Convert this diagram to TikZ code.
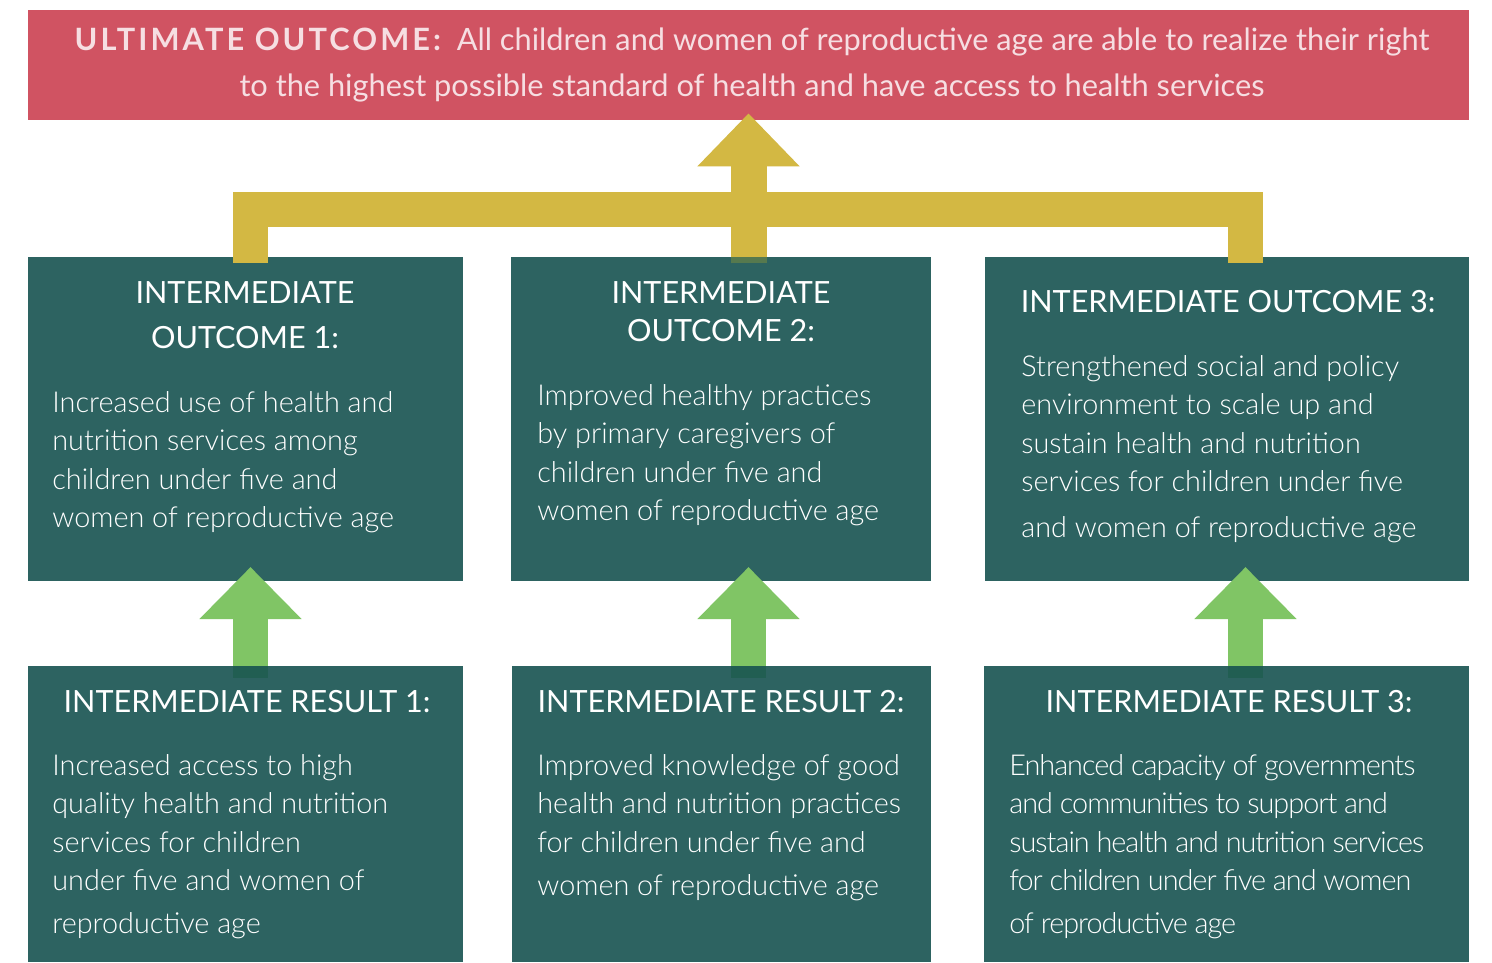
\documentclass[tikz,border=0pt]{standalone}
\usepackage{fontspec}
\setmainfont{Lato}
\IfFontExistsTF{Lato Light}{%
  \newfontfamily\lightfont{Lato Light}%
  \newfontfamily\tightfont{Lato Light}[LetterSpace=-3.5]}{%
  \newfontfamily\lightfont{Lato}%
  \newfontfamily\tightfont{Lato}[LetterSpace=-3.5]}
\newfontfamily\widebold{Lato}[LetterSpace=10]
\usetikzlibrary{arrows.meta,positioning,fit}
\definecolor{ultred}{RGB}{208,83,98}
\definecolor{boxteal}{RGB}{45,99,97}
\definecolor{linkgold}{RGB}{211,184,67}
\definecolor{stepgreen}{RGB}{128,197,101}
\definecolor{titlepink}{RGB}{246,222,226}
\definecolor{shaftdark}{RGB}{33,94,82}
\newcommand{\titlefont}{\fontsize{17.5}{26.2}\selectfont}
\newcommand{\headfont}{\fontsize{17.4}{25.6}\selectfont}
\newcommand{\bodyfont}{\lightfont\fontsize{16.4}{21.9}\selectfont}

\begin{document}
\begin{tikzpicture}[x=0.2mm,y=-0.2mm,
  panel/.style={fill=boxteal,inner sep=0pt,outer sep=0pt},
  titletxt/.style={font=\titlefont,text=titlepink,inner sep=0pt,align=center},
  headtxt/.style={font=\headfont,text=white,inner sep=0pt,align=center},
  bodytxt/.style={font=\bodyfont,text=white,inner sep=0pt,align=left,anchor=north west},
  bracket/.style={draw=linkgold,line width=7mm,line join=miter},
  goal/.style={linkgold,line width=7.2mm,-{Triangle[width=19.8mm,length=10.6mm]}},
  lift/.style={stepgreen,line width=7mm,-{Triangle[width=19.8mm,length=10.4mm]}}]
  \useasboundingbox (0,0) rectangle (1492,962);
  \fill[white] (0,0) rectangle (1492,962);

  % ultimate outcome banner
  \node[fill=ultred,inner sep=0pt,fit={(28,10) (1469,120)}] (ult) {};
  \node[titletxt,anchor=north] (ulttext) at (752,27)
    {{\widebold\bfseries ULTIMATE OUTCOME:}\ \ All children and women of reproductive age are able to realize their right\\
     to the highest possible standard of health and have access to health services};

  % panels: outcomes on top, results below
  \node[panel,fit={(28,257) (463,581)}] (io1) {};
  \node[panel,fit={(511,257) (931,581)}] (io2) {};
  \node[panel,fit={(985,257) (1469,581)}] (io3) {};
  \node[panel,fit={(28,666) (463,962)}] (ir1) {};
  \node[panel,fit={(512,666) (931,962)}] (ir2) {};
  \node[panel,fit={(984,666) (1469,962)}] (ir3) {};

  % gold bracket joining the outcomes
  \coordinate (lstub) at (250.5,263);
  \coordinate (rstub) at (1245.5,263);
  \coordinate (hub) at (748.5,263);
  \draw[bracket] (lstub) -- (250.5,209.5) -- (1245.5,209.5) -- (rstub);
  \draw[goal] (hub) -- ([yshift=1.4mm]ult.south);
  \fill[shaftdark!70!linkgold] (730.5,257) rectangle (766.5,263);

  % green arrows from results to outcomes
  \foreach \i/\x in {1/250.5,2/748.5,3/1245.5}{
    \coordinate (r\i) at (\x,678);
    \coordinate (o\i) at (\x,567);
    \draw[lift] (r\i) -- (o\i);
    \fill[shaftdark] (\x-17.5,666) rectangle (\x+17.5,678);
  }

  % outcome texts
  \node[headtxt,anchor=north] (io1head) at (245,281) {INTERMEDIATE\\OUTCOME 1:};
  \node[bodytxt] (io1body) at (52,391)
    {Increased use of health and\\nutrition services among\\children under five and\\women of reproductive age};
  \node[headtxt,anchor=north] (io2head) at (721,281) {INTERMEDIATE\\[-4pt]OUTCOME 2:};
  \node[bodytxt] (io2body) at (537,384)
    {Improved healthy practices\\by primary caregivers of\\children under five and\\women of reproductive age};
  \node[headtxt,anchor=base] (io3head) at (1228,312) {INTERMEDIATE OUTCOME 3:};
  \node[bodytxt] (io3body) at (1021,355)
    {Strengthened social and policy\\environment to scale up and\\sustain health and nutrition\\services for children under five\\[1.4mm]and women of reproductive age};

  % result texts
  \node[headtxt,anchor=base] (ir1head) at (247,712) {INTERMEDIATE RESULT 1:};
  \node[bodytxt] (ir1body) at (52,754)
    {Increased access to high\\quality health and nutrition\\services for children\\under five and women of\\[0.8mm]reproductive age};
  \node[headtxt,anchor=base] (ir2head) at (721,712) {INTERMEDIATE RESULT 2:};
  \node[bodytxt] (ir2body) at (537,754)
    {Improved knowledge of good\\health and nutrition practices\\for children under five and\\[1mm]women of reproductive age};
  \node[headtxt,anchor=base] (ir3head) at (1229,712) {INTERMEDIATE RESULT 3:};
  \node[bodytxt,font=\tightfont\fontsize{16.4}{21.9}\selectfont] (ir3body) at (1009,754)
    {Enhanced capacity of governments\\and communities to support and\\sustain health and nutrition services\\for children under five and women\\[0.8mm]of reproductive age};
\end{tikzpicture}
\end{document}
